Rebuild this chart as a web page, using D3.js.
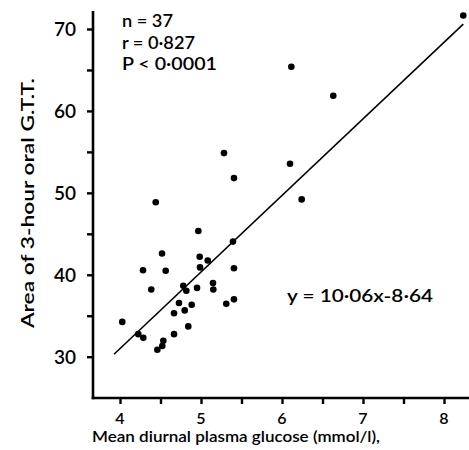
<!DOCTYPE html>
<html><head><meta charset="utf-8">
<script src="https://cdn.jsdelivr.net/npm/d3@7"></script>
<style>body{margin:0;background:#fff}svg{display:block}text{font-family:Lato,"DejaVu Sans",sans-serif;fill:#000;font-weight:600}</style>
</head><body><svg id="c" width="469" height="450"></svg>
<script>
const glucose = [5.407,4.441,4.967,5.395,4.519,4.984,5.083,4.284,4.564,4.988,5.407,4.386,4.781,4.819,4.951,5.148,5.152,4.728,4.885,4.799,4.667,5.312,5.407,4.028,4.843,4.667,4.226,4.288,4.535,4.522,4.461,8.238,6.115,6.633,6.099,6.243,5.284];
const gttArea = [51.8,48.85,45.35,44.05,42.6,42.2,41.75,40.55,40.5,40.9,40.8,38.2,38.65,38.05,38.4,39.0,38.2,36.55,36.35,35.65,35.3,36.45,37.0,34.25,33.7,32.75,32.75,32.3,31.95,31.3,30.85,71.65,65.4,61.85,53.55,49.2,54.85];
const xTicks = [4,4.5,5,5.5,6,6.5,7,7.5,8];
const xLabels = [4,5,6,7,8];
const yTicks = [30,35,40,45,50,55,60,65,70];
const yLabels = [30,40,50,60,70];
const fitLineX = [3.926, 8.238];
const fitLineY = [30.3, 70.6];
const statLines = ["n = 37","r = 0·827","P < 0·0001"];
const equation = "y = 10·06x-8·64";
const xTitle = "Mean diurnal plasma glucose (mmol/l),";
const yTitle = "Area of 3-hour oral G.T.T.";

const svg = d3.select("#c");
const x = d3.scaleLinear().domain([4,8]).range([120,444]);
const y = d3.scaleLinear().domain([30,70]).range([356.7,29]);
const x0 = x.invert(93), x1 = x.invert(469);
const y0 = y.invert(398), y1 = y.invert(11);

const xAxis = svg.append("g").attr("transform","translate(0,398)")
  .call(d3.axisBottom(x).tickValues(xTicks).tickSize(6).tickSizeOuter(0).tickFormat(""));
const yAxis = svg.append("g").attr("transform","translate(93,0)")
  .call(d3.axisLeft(y).tickValues(yTicks).tickSize(6).tickSizeOuter(0).tickFormat(""));
xAxis.select(".domain").attr("d",`M${x(x0)-1.3},0H${x(x1)}`).attr("stroke-width",2.6);
yAxis.select(".domain").attr("d",`M0,${y(y1)}V${y(y0)+1.3}`).attr("stroke-width",2.6);
svg.selectAll(".tick line").attr("stroke-width",2.4);

svg.selectAll(".xl").data(xLabels).join("text").attr("class","xl")
  .attr("x",d=>x(d)).attr("y",424).attr("text-anchor","middle").attr("font-size",16).text(d=>d);
svg.selectAll(".yl").data(yLabels).join("text").attr("class","yl")
  .attr("x",76).attr("y",d=>y(d)+7).attr("text-anchor","end").attr("font-size",19).text(d=>d);

svg.append("text").attr("x",92).attr("y",442).attr("font-size",15.5)
  .attr("textLength",288).attr("lengthAdjust","spacingAndGlyphs").text(xTitle);
svg.append("text").attr("transform","translate(34,203) rotate(-90)").attr("text-anchor","middle")
  .attr("font-size",16.5).attr("textLength",250).attr("lengthAdjust","spacingAndGlyphs").text(yTitle);

svg.append("line").attr("x1",x(fitLineX[0])).attr("y1",y(fitLineY[0]))
  .attr("x2",x(fitLineX[1])).attr("y2",y(fitLineY[1])).attr("stroke","#000").attr("stroke-width",1.6);

svg.selectAll("circle").data(glucose).join("circle")
  .attr("cx",d=>x(d)).attr("cy",(d,i)=>y(gttArea[i])).attr("r",3.3).attr("fill","#000");

const statW = [51,73,95];
statLines.forEach((s,i)=>{
  svg.append("text").attr("x",122).attr("y",27+i*21.5).attr("font-size",16.5)
    .attr("textLength",statW[i]).attr("lengthAdjust","spacingAndGlyphs").text(s);
});
svg.append("text").attr("x",287).attr("y",302).attr("font-size",16.5)
  .attr("textLength",146).attr("lengthAdjust","spacingAndGlyphs").text(equation);
</script></body></html>
